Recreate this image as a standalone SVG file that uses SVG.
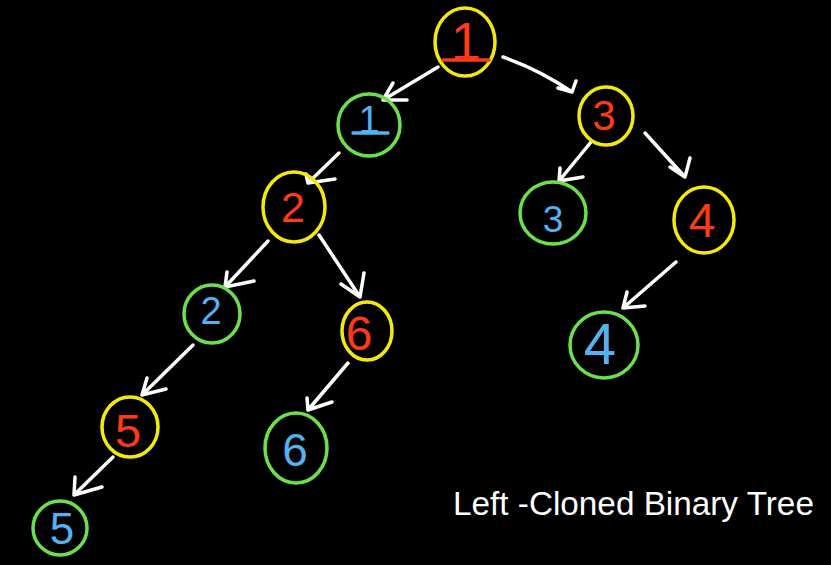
<svg xmlns="http://www.w3.org/2000/svg" width="831" height="565" viewBox="0 0 831 565">
<style>
.bg{fill:#000}
.y{fill:none;stroke:#f5e90c;stroke-width:3.5}
.g{fill:none;stroke:#6ce04c;stroke-width:3.5}
.r{fill:#ff3a16;font-family:"Liberation Sans",Arial,sans-serif;text-anchor:middle}
.b{fill:#52b2f2;font-family:"Liberation Sans",Arial,sans-serif;text-anchor:middle}
.ur{stroke:#ff3a16;stroke-width:3.5;stroke-linecap:round}
.ub{stroke:#52b2f2;stroke-width:3.5;stroke-linecap:round}
.e path{fill:none;stroke:#fff;stroke-width:3.5;stroke-linecap:round;stroke-linejoin:round}
.t{fill:#fff;font-family:"Liberation Sans",Arial,sans-serif;font-size:33.3px}
</style>
<rect class="bg" x="0" y="0" width="831" height="565"/>
<g id="edges" class="e">
<path d="M438,67 L383,100 M393,83 L383,100 L407,100"/>
<path d="M503,57 Q540,70 572,92 M576,81 L572,92 L558,88"/>
<path d="M339,153 L308,183 M306,174 L308,183 L335,179"/>
<path d="M268,241 L225,287 M227,272 L225,287 L254,281"/>
<path d="M319,235 L360,297 M364,273 L360,297 L341,284"/>
<path d="M193,345 L142,395 M147,378 L142,395 L166,389"/>
<path d="M113,457 L74,495 M75,477 L74,495 L102,487"/>
<path d="M348,363 L308,410 M307,398 L308,410 L332,402"/>
<path d="M591,142 L559,181 M560,168 L559,181 L583,177"/>
<path d="M645,133 L685,177 M690,158 L685,177 L670,167"/>
<path d="M676,262 L623,308 M627,292 L623,308 L645,306"/>
</g>
<g id="n-root"><ellipse class="y" cx="465" cy="42" rx="30" ry="34"/><text class="r" x="466" y="60" font-size="54">1</text><line class="ur" x1="443" y1="60" x2="489" y2="60"/></g>
<g id="n-g1"><ellipse class="g" cx="369" cy="125" rx="31" ry="31"/><text class="b" x="369" y="133" font-size="38">1</text><line class="ub" x1="353" y1="133" x2="388" y2="133"/></g>
<g id="n-y3"><ellipse class="y" cx="606" cy="116" rx="27" ry="29"/><text class="r" x="604" y="130" font-size="42">3</text></g>
<g id="n-y2"><ellipse class="y" cx="294" cy="207" rx="31" ry="35"/><text class="r" x="293" y="222" font-size="43">2</text></g>
<g id="n-g3"><ellipse class="g" cx="553" cy="213" rx="33" ry="31"/><text class="b" x="553" y="232" font-size="37">3</text></g>
<g id="n-y4"><ellipse class="y" cx="704" cy="220" rx="30" ry="33"/><text class="r" x="702" y="237" font-size="48">4</text></g>
<g id="n-g2"><ellipse class="g" cx="212" cy="314" rx="28" ry="29"/><text class="b" x="211" y="324" font-size="38">2</text></g>
<g id="n-y6"><ellipse class="y" cx="367" cy="331" rx="25" ry="29"/><text class="r" x="359" y="350" font-size="48">6</text></g>
<g id="n-g4"><ellipse class="g" cx="604" cy="345" rx="34" ry="33"/><text class="b" x="600" y="364" font-size="58">4</text></g>
<g id="n-y5"><ellipse class="y" cx="130" cy="427" rx="28" ry="30"/><text class="r" x="128" y="447" font-size="47">5</text></g>
<g id="n-g6"><ellipse class="g" cx="296" cy="448" rx="31" ry="35"/><text class="b" x="295" y="466" font-size="46">6</text></g>
<g id="n-g5"><ellipse class="g" cx="60" cy="528" rx="27" ry="27"/><text class="b" x="62" y="544" font-size="44">5</text></g>
<text class="t" x="453" y="515">Left -Cloned Binary Tree</text>
</svg>
